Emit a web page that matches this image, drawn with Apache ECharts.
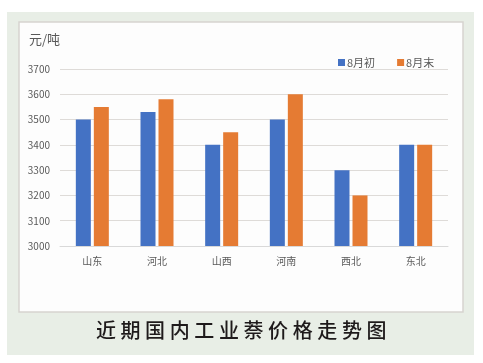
<!DOCTYPE html>
<html><head><meta charset="utf-8">
<script src="https://cdn.jsdelivr.net/npm/echarts@6/dist/echarts.min.js"></script>
<style>
html,body{margin:0;padding:0;background:#fff;}
#wrap{position:relative;width:483px;height:363px;}
#c{width:483px;height:363px;}
#t{position:absolute;left:0;width:483px;top:316px;text-align:center;font-family:"Noto Sans CJK SC",sans-serif;font-size:20px;letter-spacing:4.6px;color:#1e1a1b;line-height:28px;padding-left:4px;box-sizing:border-box;font-weight:500;}
</style></head>
<body><div id="wrap"><div id="c"></div><div id="t">近期国内工业萘价格走势图</div></div>
<script>
const categories = ['山东','河北','山西','河南','西北','东北'];
const earlyAug = [3500,3530,3400,3500,3300,3400];
const lateAug = [3550,3580,3450,3600,3200,3400];
const seriesNames = ['8月初','8月末'];
const yUnit = '元/吨';

const chart = echarts.init(document.getElementById('c'), null, {renderer:'canvas'});
const font = '"Noto Sans CJK SC", sans-serif';
chart.setOption({
  backgroundColor:'#fff',
  animation:false,
  graphic:[
    {type:'rect', shape:{x:7,y:12,width:467,height:343}, style:{fill:'#e8eee6'}, z:-10},
    {type:'rect', shape:{x:19,y:22,width:444,height:290}, style:{fill:'#fdfdfd', stroke:'#d6d4d0', lineWidth:1.5}, z:-9},
    {type:'text', left:29, top:33, style:{text:yUnit, fontSize:13, fill:'#595959', fontFamily:font}}
  ],
  legend:{
    data:seriesNames, top:52, left:333, itemWidth:7, itemHeight:7, itemGap:22,
    icon:'rect', textStyle:{color:'#595959', fontSize:11, fontFamily:font, padding:[0,0,0,-3]}
  },
  grid:{left:60, right:35, top:69, bottom:117},
  xAxis:{
    type:'category', data:categories,
    axisLine:{lineStyle:{color:'#d9d9d9'}}, axisTick:{show:false},
    axisLabel:{color:'#595959', fontSize:10, fontFamily:font, margin:10}
  },
  yAxis:{
    type:'value', min:3000, max:3700, interval:100,
    axisLine:{show:false}, axisTick:{show:false},
    splitLine:{lineStyle:{color:'#dedbd8'}},
    axisLabel:{color:'#595959', fontSize:10, fontFamily:font, margin:10, formatter:function(v){return String(v);}}
  },
  series:[
    {name:seriesNames[0], type:'bar', data:earlyAug, barWidth:15, barGap:'20%', itemStyle:{color:'#4472C4'}},
    {name:seriesNames[1], type:'bar', data:lateAug, barWidth:15, itemStyle:{color:'#E57B33'}}
  ]
});
</script></body></html>
